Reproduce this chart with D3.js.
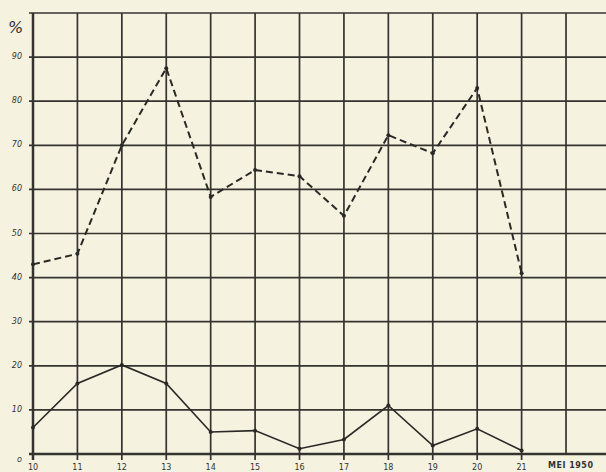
<!DOCTYPE html>
<html lang="nl">
<head>
<meta charset="UTF-8">
<title>Mei 1950</title>
<style>
    body { margin: 0; padding: 0; background: #f6f2e0; }
    svg { display: block; }
    .ylab { font-family: "DejaVu Sans", sans-serif; font-style: italic; font-size: 8px; fill: #333; }
    .xlab { font-family: "DejaVu Sans", sans-serif; font-size: 8px; fill: #333; }
</style>
</head>
<body>
<div id="chart"></div>
<script src="https://cdnjs.cloudflare.com/ajax/libs/d3/7.8.5/d3.min.js"></script>
<script>
const days = [10, 11, 12, 13, 14, 15, 16, 17, 18, 19, 20, 21];
const dashedSeries = [43, 45.4, 70, 87.5, 58.3, 64.4, 63, 54, 72.3, 68.2, 83, 41];
const solidSeries = [6, 16, 20.2, 16, 5, 5.3, 1.2, 3.3, 11, 1.9, 5.7, 0.8];
const yTicks = [0, 10, 20, 30, 40, 50, 60, 70, 80, 90];
const xGrid = [10, 11, 12, 13, 14, 15, 16, 17, 18, 19, 20, 21, 22];

const width = 606, height = 472;

const svg = d3.select("#chart").append("svg")
    .attr("width", width).attr("height", height);

svg.append("rect").attr("width", width).attr("height", height).attr("fill", "#f6f2e0");

const x = d3.scaleLinear().domain([10, 22.9]).range([33, 606]);
const y = d3.scaleLinear().domain([0, 100]).range([454, 13]);

// horizontal grid
svg.append("g").selectAll("line")
    .data(yTicks.concat([100]))
    .join("line")
    .attr("x1", x(10) - 4).attr("x2", width)
    .attr("y1", d => y(d)).attr("y2", d => y(d))
    .attr("stroke", "#34332f")
    .attr("stroke-width", d => d === 0 ? 2.5 : 1.7);

// vertical grid
svg.append("g").selectAll("line")
    .data(xGrid)
    .join("line")
    .attr("x1", d => x(d)).attr("x2", d => x(d))
    .attr("y1", y(100)).attr("y2", d => d <= 21 ? y(0) + 6 : y(0))
    .attr("stroke", "#34332f")
    .attr("stroke-width", d => d === 10 ? 2.5 : 1.7);

// y labels
svg.append("g").selectAll("text")
    .data(yTicks)
    .join("text")
    .attr("class", "ylab")
    .attr("x", 22)
    .attr("y", d => y(d) + (d === 0 ? 8 : 2))
    .attr("text-anchor", "end")
    .text(d => d === 0 ? "o" : d);

svg.append("text")
    .attr("class", "ylab")
    .attr("x", 8).attr("y", 33)
    .style("font-size", "16px")
    .text("%");

// x labels
svg.append("g").selectAll("text")
    .data(days)
    .join("text")
    .attr("class", "xlab")
    .attr("x", d => x(d))
    .attr("y", 470)
    .attr("text-anchor", "middle")
    .text(d => d);

svg.append("text")
    .attr("class", "xlab")
    .attr("x", 548).attr("y", 468)
    .style("font-weight", "bold")
    .style("font-size", "8px")
    .style("letter-spacing", "0.5px")
    .text("MEI 1950");

const line = d3.line().x((d, i) => x(days[i])).y(d => y(d));

svg.append("path")
    .datum(dashedSeries)
    .attr("d", line)
    .attr("fill", "none")
    .attr("stroke", "#2a2926")
    .attr("stroke-width", 2)
    .attr("stroke-dasharray", "7,4");

svg.append("path")
    .datum(solidSeries)
    .attr("d", line)
    .attr("fill", "none")
    .attr("stroke", "#2a2926")
    .attr("stroke-width", 1.6);

[dashedSeries, solidSeries].forEach(s => {
    svg.append("g").selectAll("circle")
        .data(s)
        .join("circle")
        .attr("cx", (d, i) => x(days[i]))
        .attr("cy", d => y(d))
        .attr("r", 2)
        .attr("fill", "#2a2926");
});
</script>
</body>
</html>
